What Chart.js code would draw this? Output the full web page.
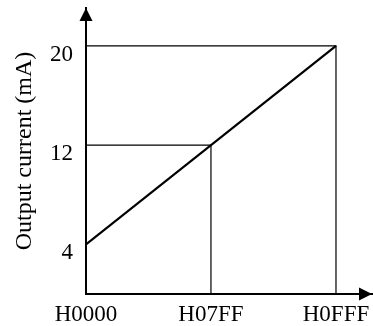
<!DOCTYPE html>
<html>
<head>
<meta charset="utf-8">
<script src="https://cdn.jsdelivr.net/npm/chart.js@4.4.0/dist/chart.umd.min.js"></script>
<style>
  html, body { margin: 0; padding: 0; background: #fff; }
  #wrap { width: 373px; height: 326px; }
</style>
</head>
<body>
<div id="wrap"><canvas id="c"></canvas></div>
<script>
// 数据
const xTickValues = [0, 2047, 4095];
const xTickLabels = ['H0000', 'H07FF', 'H0FFF'];
const yTickValues = [4, 12, 20];
const yTickLabels = ['4', '12', '20'];

// 输出特性曲线 (码值 -> 电流)
const outputX = [0, 4095];
const outputY = [4, 20];

// 辅助线
const guide12X = [0, 2047, 2047];
const guide12Y = [12, 12, 0];
const guideTopX = [0, 4095, 4095];
const guideTopY = [20, 20, 0];

const FONT = "'Liberation Serif', 'Times New Roman', serif";

function toPoints(xs, ys) {
  return xs.map((x, i) => ({ x: x, y: ys[i] }));
}

// 坐标轴箭头
const arrowPlugin = {
  id: 'arrows',
  afterDraw(chart) {
    const { ctx, chartArea } = chart;
    const x0 = chartArea.left, y0 = chartArea.bottom;
    ctx.save();
    ctx.fillStyle = '#000';
    // y 轴箭头
    ctx.beginPath();
    ctx.moveTo(x0, chartArea.top);
    ctx.lineTo(x0 - 6.5, chartArea.top + 13);
    ctx.lineTo(x0 + 6.5, chartArea.top + 13);
    ctx.closePath();
    ctx.fill();
    // x 轴箭头
    ctx.beginPath();
    ctx.moveTo(chartArea.right, y0);
    ctx.lineTo(chartArea.right - 13, y0 - 6.5);
    ctx.lineTo(chartArea.right - 13, y0 + 6.5);
    ctx.closePath();
    ctx.fill();
    ctx.restore();
  }
};

const ctx = document.getElementById('c').getContext('2d');
new Chart(ctx, {
  type: 'scatter',
  data: {
    datasets: [
      {
        data: toPoints(guideTopX, guideTopY),
        showLine: true,
        borderColor: '#000',
        borderWidth: 1.2,
        pointRadius: 0
      },
      {
        data: toPoints(guide12X, guide12Y),
        showLine: true,
        borderColor: '#000',
        borderWidth: 1.2,
        pointRadius: 0
      },
      {
        data: toPoints(outputX, outputY),
        showLine: true,
        borderColor: '#000',
        borderWidth: 2.2,
        pointRadius: 0
      }
    ]
  },
  options: {
    responsive: true,
    maintainAspectRatio: false,
    animation: false,
    layout: { padding: { top: 8, right: 1, left: 0, bottom: 0 } },
    plugins: {
      legend: { display: false },
      tooltip: { enabled: false }
    },
    scales: {
      x: {
        type: 'linear',
        min: 0,
        max: 4685,
        grid: { display: false, drawTicks: false },
        border: { display: true, color: '#000', width: 2 },
        afterBuildTicks: (axis) => { axis.ticks = xTickValues.map(v => ({ value: v })); },
        afterFit: (axis) => {
          axis.height = 32;
          axis.paddingLeft = 0;
          axis.paddingRight = 0;
        },
        ticks: {
          padding: 7,
          color: '#000',
          maxRotation: 0,
          autoSkip: false,
          font: { family: FONT, size: 23 },
          callback: (v) => {
            const i = xTickValues.indexOf(v);
            return i >= 0 ? xTickLabels[i] : '';
          }
        }
      },
      y: {
        type: 'linear',
        min: 0,
        max: 23.06,
        grid: { display: false, drawTicks: false },
        border: { display: true, color: '#000', width: 2 },
        afterBuildTicks: (axis) => { axis.ticks = yTickValues.map(v => ({ value: v })); },
        afterFit: (axis) => {
          axis.width = 86;
          axis.paddingTop = 0;
          axis.paddingBottom = 0;
        },
        title: {
          display: true,
          text: 'Output current (mA)',
          color: '#000',
          font: { family: FONT, size: 24 },
          padding: { top: 10, bottom: 0 }
        },
        ticks: {
          padding: 13,
          labelOffset: 9,
          color: '#000',
          autoSkip: false,
          font: { family: FONT, size: 23 },
          callback: (v) => {
            const i = yTickValues.indexOf(v);
            return i >= 0 ? yTickLabels[i] : '';
          }
        }
      }
    }
  },
  plugins: [arrowPlugin]
});
</script>
</body>
</html>
